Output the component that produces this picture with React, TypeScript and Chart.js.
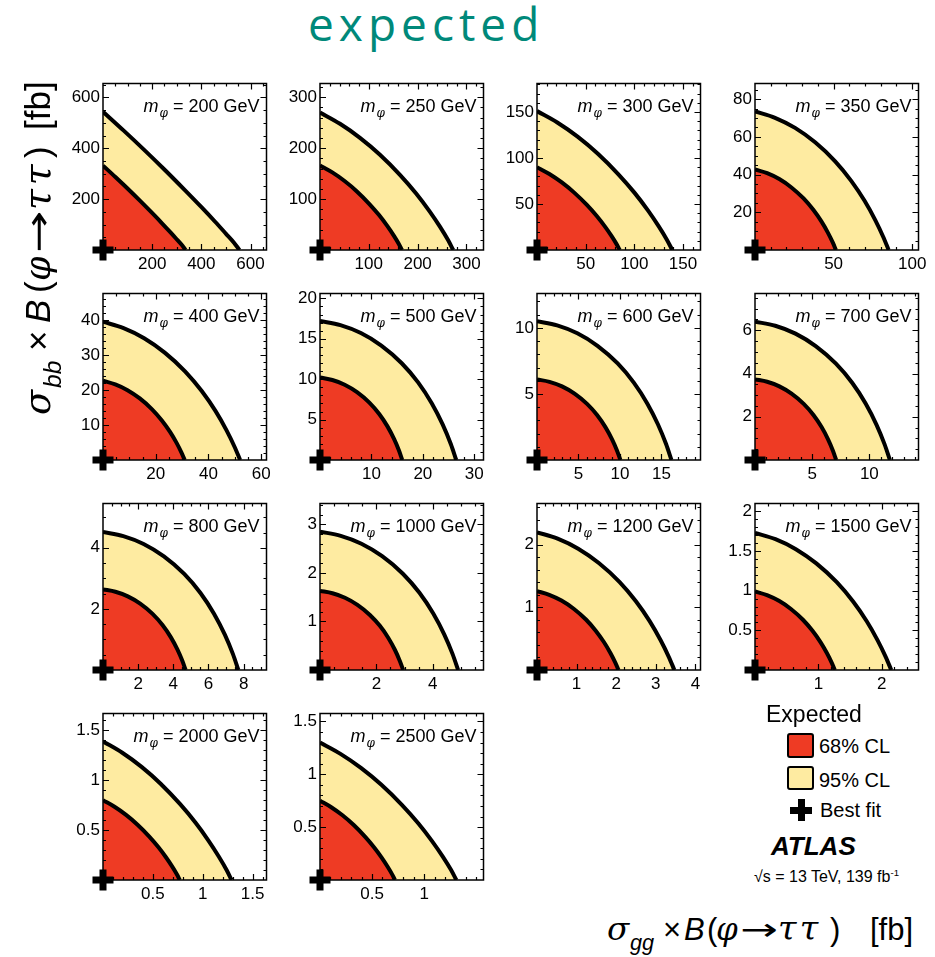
import React, { useEffect, useRef } from "react";
import { Chart, registerables } from "chart.js";
Chart.register(...registerables);

const FAMILY = "'Liberation Sans', Arial, Helvetica, sans-serif";
const GREEK = "'DejaVu Serif', 'Liberation Serif', serif";

// ---- data ----
const MASSES = [200, 250, 300, 350, 400, 500, 600, 700, 800, 1000, 1200, 1500, 2000, 2500];
const X_MAX = [665, 335, 168, 104, 62, 31.8, 19.7, 14.3, 9.3, 5.8, 4.13, 2.58, 1.64, 1.57];
const Y_MAX = [655, 327, 181, 88.3, 47.7, 20.6, 12.6, 7.7, 5.45, 3.43, 2.66, 2.1, 1.67, 1.575];
// 95% CL contour intercepts
const X95 = [555, 273, 139, 85, 52, 26.5, 16.2, 11.8, 7.7, 4.9, 3.47, 2.15, 1.29, 1.31];
const Y95 = [544, 270, 151, 73.5, 39.6, 17.2, 10.5, 6.4, 4.52, 2.85, 2.2, 1.73, 1.39, 1.3];
// 68% CL contour intercepts
const X68 = [336, 168, 85, 51.5, 31, 16, 10.05, 7.1, 4.7, 2.95, 2.06, 1.26, 0.77, 0.72];
const Y68 = [332, 166, 90, 42.7, 22.7, 10.2, 6.1, 3.73, 2.64, 1.63, 1.26, 0.99, 0.8, 0.75];
// contour shape read per panel (fraction of y-intercept at fractions of x-intercept)
const SHAPE_X = [0, 0.15, 0.3, 0.45, 0.6, 0.72, 0.82, 0.9, 0.96, 1];
const SHAPE_FLAT = [1, 0.865, 0.726, 0.582, 0.433, 0.311, 0.206, 0.119, 0.053, 0];
const SHAPE_LOW = [1, 0.918, 0.816, 0.693, 0.547, 0.413, 0.285, 0.17, 0.074, 0];
const SHAPE_MID = [1, 0.954, 0.881, 0.777, 0.64, 0.499, 0.355, 0.216, 0.094, 0];
const SHAPE_ROUND = [1, 0.97, 0.913, 0.823, 0.696, 0.558, 0.408, 0.256, 0.115, 0];
const PANEL_SHAPE = [SHAPE_FLAT, SHAPE_LOW, SHAPE_LOW, SHAPE_MID, SHAPE_MID, SHAPE_ROUND, SHAPE_ROUND,
  SHAPE_ROUND, SHAPE_ROUND, SHAPE_ROUND, SHAPE_MID, SHAPE_MID, SHAPE_LOW, SHAPE_LOW];
// tick labels
const X_TICKS = [[200, 400, 600], [100, 200, 300], [50, 100, 150], [50, 100], [20, 40, 60], [10, 20, 30],
  [5, 10, 15], [5, 10], [2, 4, 6, 8], [2, 4], [1, 2, 3, 4], [1, 2], [0.5, 1, 1.5], [0.5, 1]];
const Y_TICKS = [[200, 400, 600], [100, 200, 300], [50, 100, 150], [20, 40, 60, 80], [10, 20, 30, 40],
  [5, 10, 15, 20], [5, 10], [2, 4, 6], [2, 4], [1, 2, 3], [1, 2], [0.5, 1, 1.5, 2], [0.5, 1, 1.5], [0.5, 1, 1.5]];
const X_MINOR = [50, 20, 10, 10, 5, 2, 1, 1, 0.5, 0.5, 0.2, 0.2, 0.1, 0.1];
const Y_MINOR = [50, 20, 10, 5, 2, 1, 1, 0.5, 0.5, 0.2, 0.2, 0.1, 0.1, 0.1];

// ---- layout ----
const COL_LEFT = [103, 320, 537, 755];
const ROW_TOP = [78, 288, 498, 708];
const PLOT_W = 167;
const PLOT_H = 172;
const PAD_L = 50, PAD_T = 12, PAD_R = 14, PAD_B = 28;
const CW = PAD_L + PLOT_W + PAD_R;
const CH = PAD_T + PLOT_H + PAD_B;

const RED = "#ee3b24";
const YELLOW = "#feeba1";

const framePlugin = {
  id: "rootFrame",
  afterDatasetsDraw(chart: any, _args: any, opts: any) {
    const i = opts.idx as number;
    const { ctx, chartArea: a, scales } = chart;
    const xs = scales.x, ys = scales.y;
    ctx.save();
    ctx.strokeStyle = "#000";
    ctx.lineWidth = 1.5;
    ctx.strokeRect(a.left, a.top, a.right - a.left, a.bottom - a.top);
    ctx.lineWidth = 1.2;
    ctx.beginPath();
    const isMajor = (list: number[], v: number) => list.some((t) => Math.abs(t - v) < 1e-6);
    for (let k = 1; k * X_MINOR[i] < X_MAX[i]; k++) {
      const v = k * X_MINOR[i];
      const px = Math.round(xs.getPixelForValue(v)) + 0.5;
      const len = isMajor(X_TICKS[i], v) ? 6 : 3;
      ctx.moveTo(px, a.bottom); ctx.lineTo(px, a.bottom - len);
      ctx.moveTo(px, a.top); ctx.lineTo(px, a.top + len);
    }
    for (let k = 1; k * Y_MINOR[i] < Y_MAX[i]; k++) {
      const v = k * Y_MINOR[i];
      const py = Math.round(ys.getPixelForValue(v)) + 0.5;
      const len = isMajor(Y_TICKS[i], v) ? 6 : 3;
      ctx.moveTo(a.left, py); ctx.lineTo(a.left + len, py);
      ctx.moveTo(a.right, py); ctx.lineTo(a.right - len, py);
    }
    ctx.stroke();
    // panel title
    const right = a.right - 7;
    const base = a.top + 28;
    const t1 = ` = ${MASSES[i]} GeV`;
    ctx.fillStyle = "#000";
    ctx.textBaseline = "alphabetic";
    ctx.textAlign = "left";
    ctx.font = `18px ${FAMILY}`;
    const w1 = ctx.measureText(t1).width;
    ctx.font = `italic 12px ${GREEK}`;
    const wp = ctx.measureText("φ").width;
    ctx.font = `italic 18px ${FAMILY}`;
    const wm = ctx.measureText("m").width;
    const x = right - w1 - wp - wm - 1;
    ctx.fillText("m", x, base);
    ctx.font = `italic 12px ${GREEK}`;
    ctx.fillText("φ", x + wm + 1, base + 5);
    ctx.font = `18px ${FAMILY}`;
    ctx.fillText(t1, x + wm + wp + 1, base);
    ctx.restore();
  },
};

function Panel({ idx }: { idx: number }) {
  const ref = useRef<HTMLCanvasElement>(null);
  useEffect(() => {
    const canvas = ref.current;
    if (!canvas) return;
    const shape = PANEL_SHAPE[idx];
    const c95 = SHAPE_X.map((f, k) => ({ x: f * X95[idx], y: shape[k] * Y95[idx] }));
    const c68 = SHAPE_X.map((f, k) => ({ x: f * X68[idx], y: shape[k] * Y68[idx] }));
    const tickFont = { size: 17, family: FAMILY };
    const chart = new Chart(canvas, {
      type: "line",
      data: {
        datasets: [
          {
            label: "Best fit",
            data: [{ x: 0, y: 0 }],
            showLine: false,
            pointStyle: "cross",
            pointRadius: 10.5,
            pointBorderWidth: 7,
            pointBorderColor: "#000",
            borderColor: "#000",
            clip: false as any,
          },
          {
            label: "68% CL",
            data: c68,
            borderColor: "#000",
            borderWidth: 4,
            backgroundColor: RED,
            fill: "origin",
            pointRadius: 0,
            cubicInterpolationMode: "monotone",
            clip: 0 as any,
          },
          {
            label: "95% CL",
            data: c95,
            borderColor: "#000",
            borderWidth: 4,
            backgroundColor: YELLOW,
            fill: "origin",
            pointRadius: 0,
            cubicInterpolationMode: "monotone",
            clip: 0 as any,
          },
        ],
      },
      options: {
        animation: false,
        responsive: false,
        maintainAspectRatio: false,
        devicePixelRatio: 1,
        events: [],
        layout: { padding: { left: 0, top: PAD_T, right: PAD_R, bottom: 0 } },
        plugins: {
          legend: { display: false },
          tooltip: { enabled: false },
          rootFrame: { idx },
        } as any,
        scales: {
          x: {
            type: "linear",
            min: 0,
            max: X_MAX[idx],
            grid: { display: false, drawTicks: false },
            border: { display: false },
            afterBuildTicks: (s: any) => { s.ticks = X_TICKS[idx].map((v) => ({ value: v })); },
            afterFit: (s: any) => { s.height = PAD_B; },
            ticks: { autoSkip: false, maxRotation: 0, minRotation: 0, padding: 4, color: "#000", font: tickFont, callback: (v: any) => String(v) },
          },
          y: {
            type: "linear",
            min: 0,
            max: Y_MAX[idx],
            grid: { display: false, drawTicks: false },
            border: { display: false },
            afterBuildTicks: (s: any) => { s.ticks = Y_TICKS[idx].map((v) => ({ value: v })); },
            afterFit: (s: any) => { s.width = PAD_L; },
            ticks: { autoSkip: false, padding: 3, color: "#000", font: tickFont, callback: (v: any) => String(v) },
          },
        },
      },
      plugins: [framePlugin as any],
    });
    return () => chart.destroy();
  }, [idx]);
  const col = idx % 4;
  const row = Math.floor(idx / 4);
  return (
    <canvas
      ref={ref}
      width={CW}
      height={CH}
      style={{ position: "absolute", left: COL_LEFT[col] - PAD_L, top: ROW_TOP[row] - PAD_T, width: CW, height: CH }}
    />
  );
}

const txt = (left: number, top: number, size: number, extra: any = {}): any => ({
  position: "absolute",
  left,
  top,
  fontSize: size,
  lineHeight: `${Math.round(size * 1.117)}px`,
  fontFamily: FAMILY,
  whiteSpace: "nowrap",
  color: "#000",
  ...extra,
});

// axis-title pieces: widths in px (layout) for the x and y titles
const X_TITLE_W = [23, 31, 23, 23, 9, 24, 38, 52, 40, 50];
const Y_TITLE_W = [27, 35, 30, 30, 12, 28, 43, 52, 28, 55];

function AxisTitle({ sub, widths, size }: { sub: string; widths: number[]; size: number }) {
  const ib = (w: number, extra: any = {}): any => ({ display: "inline-block", width: w, ...extra });
  const gk = { fontFamily: GREEK, fontStyle: "italic" };
  return (
    <span style={{ fontFamily: FAMILY, fontSize: size, whiteSpace: "nowrap", color: "#000" }}>
      <span style={ib(widths[0], { ...gk, fontSize: "1.05em" })}>σ</span>
      <span style={ib(widths[1], { fontSize: "0.7em", fontStyle: "italic", verticalAlign: "-0.45em" })}>{sub}</span>
      <span style={ib(widths[2], { paddingLeft: 2, boxSizing: "border-box" })}>×</span>
      <span style={ib(widths[3], { fontStyle: "italic" })}>B</span>
      <span style={ib(widths[4])}>(</span>
      <span style={ib(widths[5], gk)}>φ</span>
      <span style={ib(widths[6])}>
        <span style={{ display: "inline-block", fontFamily: "'DejaVu Sans', sans-serif", transform: "scaleX(1.45)", transformOrigin: "0 0" }}>→</span>
      </span>
      <span style={ib(widths[7], { ...gk, fontSize: "1.08em", letterSpacing: "0.1em" })}>ττ</span>
      <span style={ib(widths[8])}>)</span>
      <span style={ib(widths[9])}>[fb]</span>
    </span>
  );
}

export default function App() {
  return (
    <div style={{ position: "absolute", left: 0, top: 0, width: 935, height: 957, background: "#fff", overflow: "hidden" }}>
      <div
        style={{
          position: "absolute", left: 308, top: -8, fontFamily: "'Open Sans', sans-serif", fontSize: 46,
          lineHeight: "62px", letterSpacing: "5px", color: "#00897a", whiteSpace: "nowrap",
        }}
      >
        expected
      </div>
      {MASSES.map((_, i) => (
        <Panel key={i} idx={i} />
      ))}
      {/* y axis title (rotated) */}
      <div
        style={{
          position: "absolute", left: 17, top: 415, transform: "rotate(-90deg)", transformOrigin: "0 0",
          lineHeight: "40px", whiteSpace: "nowrap",
        }}
      >
        <AxisTitle sub="bb" widths={Y_TITLE_W} size={35} />
      </div>
      {/* x axis title */}
      <div style={{ position: "absolute", left: 607, top: 909, lineHeight: "40px", whiteSpace: "nowrap" }}>
        <AxisTitle sub="gg" widths={X_TITLE_W} size={31} />
      </div>
      {/* legend */}
      <div style={txt(766, 701, 23)}>Expected</div>
      <div style={{ position: "absolute", left: 787, top: 733, width: 27, height: 25, boxSizing: "border-box", border: "2.5px solid #000", borderRadius: 3, background: RED }} />
      <div style={txt(819, 735, 20)}>68% CL</div>
      <div style={{ position: "absolute", left: 787, top: 766, width: 27, height: 24, boxSizing: "border-box", border: "2.5px solid #000", borderRadius: 3, background: YELLOW }} />
      <div style={txt(819, 768.5, 20)}>95% CL</div>
      <div style={{ position: "absolute", left: 790, top: 806.5, width: 22, height: 7, background: "#000" }} />
      <div style={{ position: "absolute", left: 797.5, top: 799, width: 7, height: 22, background: "#000" }} />
      <div style={txt(820, 799, 20)}>Best fit</div>
      <div style={txt(771, 831.5, 26, { fontWeight: "bold", fontStyle: "italic" })}>ATLAS</div>
      <div style={txt(754, 868, 16)}>
        √s = 13 TeV, 139 fb<sup style={{ fontSize: "0.6em", verticalAlign: "0.6em", lineHeight: 0 }}>-1</sup>
      </div>
    </div>
  );
}
